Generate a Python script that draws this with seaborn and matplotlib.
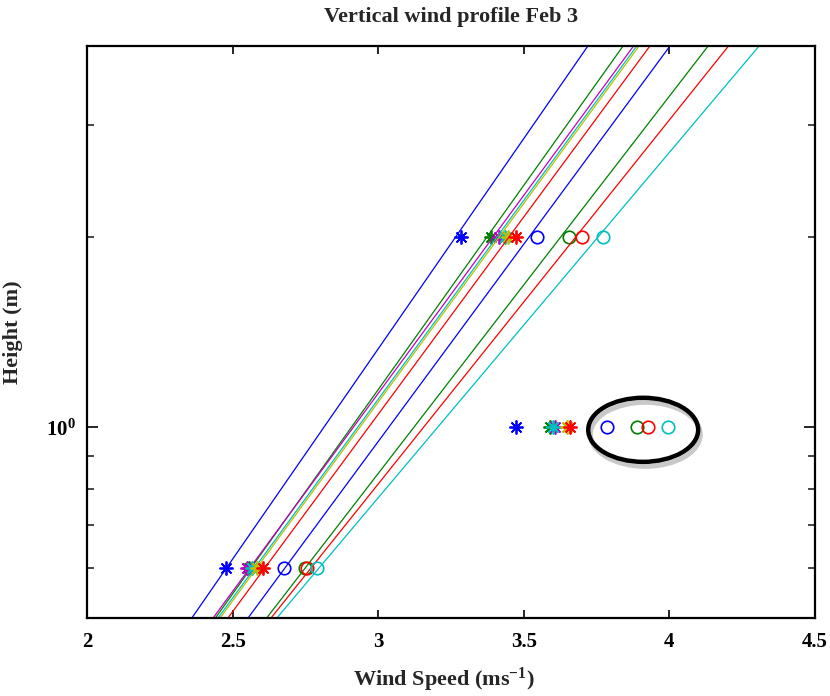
import numpy as np
import pandas as pd
import seaborn as sns
import matplotlib
matplotlib.use("Agg")
import matplotlib.pyplot as plt
from matplotlib.patches import Ellipse
from matplotlib.ticker import FixedLocator, FuncFormatter, NullFormatter

# ---------------- data ----------------
series_colors = ["#0000ff", "#008000", "#bf00bf", "#00bfbf", "#bfbf00", "#ff0000",
                 "#0000ff", "#008000", "#ff0000", "#00bfbf"]
series_markers = ["*", "*", "*", "*", "*", "*", "o", "o", "o", "o"]

heights = [0.6, 1.0, 2.0]          # measurement heights (m)
u_06 = [2.477, 2.556, 2.551, 2.567, 2.583, 2.604, 2.678, 2.749, 2.756, 2.789]
u_10 = [3.473, 3.590, 3.607, 3.600, 3.648, 3.659, 3.786, 3.889, 3.925, 3.995]
u_20 = [3.283, 3.387, 3.415, 3.435, 3.446, 3.472, 3.544, 3.655, 3.699, 3.772]

fit_heights = [0.5, 4.0]           # fitted log-profile end points
fit_u_bottom = [2.360, 2.441, 2.433, 2.450, 2.457, 2.484, 2.553, 2.617, 2.632, 2.652]
fit_u_top = [3.720, 3.841, 3.877, 3.888, 3.896, 3.933, 4.002, 4.133, 4.203, 4.308]

x_ticks = [2, 2.5, 3, 3.5, 4, 4.5]
x_tick_labels = ["2", "2.5", "3", "3.5", "4", "4.5"]

# ---------------- style ----------------
sns.set_theme(style="white")
plt.rcParams["font.family"] = ["Liberation Serif", "DejaVu Serif"]
plt.rcParams["mathtext.fontset"] = "custom"
plt.rcParams["mathtext.rm"] = "Liberation Serif"
plt.rcParams["mathtext.bf"] = "Liberation Serif:bold"
plt.rcParams["mathtext.it"] = "Liberation Serif:italic"

fig = plt.figure(figsize=(8.3, 6.96), dpi=100)
ax = fig.add_axes([87 / 830, 78 / 696, 728 / 830, 572 / 696])

asterisk = (8, 2, 0)
for i, c in enumerate(series_colors):
    line_df = pd.DataFrame({"u": [fit_u_bottom[i], fit_u_top[i]], "z": fit_heights})
    sns.lineplot(data=line_df, x="u", y="z", color=c, linewidth=0.9, ax=ax,
                 sort=False, estimator=None)
    pts = pd.DataFrame({"u": [u_06[i], u_10[i], u_20[i]], "z": heights})
    if series_markers[i] == "*":
        sns.lineplot(data=pts, x="u", y="z", ax=ax, estimator=None, sort=False,
                     linestyle="none", marker=asterisk, markersize=10,
                     markeredgecolor=c, markeredgewidth=1.3, color=c)
    else:
        sns.lineplot(data=pts, x="u", y="z", ax=ax, estimator=None, sort=False,
                     linestyle="none", marker="o", markersize=9,
                     markerfacecolor="none", markeredgecolor=c,
                     markeredgewidth=1.2, color=c)

ax.set_yscale("log")
ax.set_xlim(2, 4.5)
ax.set_ylim(0.5, 4.0)

ax.set_xticks(x_ticks)
ax.set_xticklabels(x_tick_labels)
ax.yaxis.set_major_locator(FixedLocator([1.0]))
ax.yaxis.set_major_formatter(FuncFormatter(lambda v, p: r"$\mathbf{10^{0}}$"))
ax.yaxis.set_minor_locator(FixedLocator([0.6, 0.7, 0.8, 0.9, 2, 3]))
ax.yaxis.set_minor_formatter(NullFormatter())

for lab in ax.get_xticklabels() + ax.get_yticklabels():
    lab.set_fontweight("bold")
    lab.set_fontsize(15)

ax.tick_params(axis="x", which="major", direction="in", length=6, width=1.2,
               top=True, bottom=True, pad=10, colors="black")
ax.tick_params(axis="y", which="major", direction="in", length=8, width=1.2,
               left=True, right=True, pad=8, colors="black")
ax.tick_params(axis="y", which="minor", direction="in", length=5, width=1.2,
               left=True, right=True)
for s in ax.spines.values():
    s.set_visible(True)
    s.set_color("black")
    s.set_linewidth(1.6)

ax.set_xlabel(r"Wind Speed (ms$^{\mathbf{-1}}$)", fontsize=16, fontweight="bold")
ax.xaxis.set_label_coords(0.49, -0.083)
ax.set_ylabel("Height (m)", fontsize=16, fontweight="bold")
ax.yaxis.set_label_coords(-0.088, 0.5)
ax.set_title("Vertical wind profile Feb 3", fontsize=16, fontweight="bold", pad=17)

# highlighting ellipse (shadow + outline)
shadow = Ellipse((0.767, 0.321), 0.151, 0.112, transform=ax.transAxes,
                 fill=False, edgecolor="#c8c8c8", linewidth=3.5)
ax.add_patch(shadow)
ell = Ellipse((0.764, 0.329), 0.151, 0.112, transform=ax.transAxes,
              fill=False, edgecolor="black", linewidth=3.2)
ax.add_patch(ell)

fig.savefig("out.png", dpi=100, facecolor="white")
